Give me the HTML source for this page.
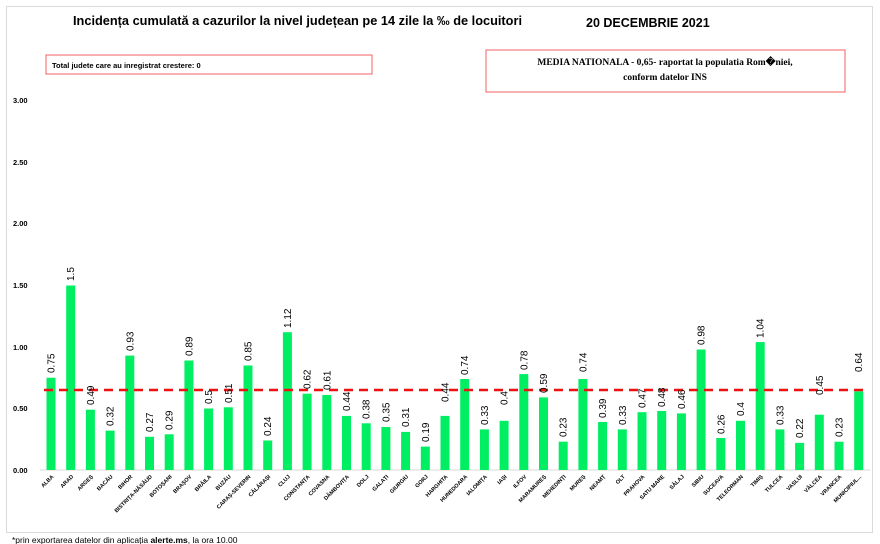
<!DOCTYPE html>
<html><head><meta charset="utf-8"><style>
html,body{margin:0;padding:0;background:#fff;width:880px;height:544px;overflow:hidden}
svg{display:block;font-family:"Liberation Sans",sans-serif}
.v{font-size:10px;fill:#000}
.c{font-size:5.5px;font-weight:bold;fill:#000}
.y{font-size:7.5px;font-weight:bold;fill:#000}
</style></head><body>
<svg width="880" height="544" viewBox="0 0 880 544">
<rect x="6.5" y="6.5" width="866" height="526" fill="#fff" stroke="#d9d9d9"/>
<text x="73" y="25" font-size="12.5" font-weight="bold" textLength="449" lengthAdjust="spacingAndGlyphs">Incidența cumulată a cazurilor la nivel județean pe 14 zile la ‰ de locuitori</text>
<text x="586" y="27" font-size="12.5" font-weight="bold">20 DECEMBRIE 2021</text>
<rect x="46" y="55" width="326" height="19" fill="#fff" stroke="#f06060"/>
<text x="52" y="68" font-size="7.5" font-weight="bold">Total judete care au inregistrat crestere: 0</text>
<rect x="486" y="50" width="359" height="42" fill="#fff" stroke="#f06060"/>
<text x="665" y="65" font-size="9.5" font-weight="bold" text-anchor="middle" font-family="Liberation Serif,serif">MEDIA NATIONALA - 0,65-  raportat la populatia Rom�niei,</text>
<text x="665" y="80" font-size="9.5" font-weight="bold" text-anchor="middle" font-family="Liberation Serif,serif">conform datelor INS</text>
<g class="y">
<text x="13" y="103">3.00</text><text x="13" y="165">2.50</text><text x="13" y="226">2.00</text>
<text x="13" y="288">1.50</text><text x="13" y="350">1.00</text><text x="13" y="411">0.50</text><text x="13" y="473">0.00</text>
</g>
<line x1="40" y1="470" x2="870" y2="470" stroke="#d9d9d9"/>
<g fill="#00ee62">
<rect x="46.5" y="377.75" width="9" height="92.25"/>
<rect x="66.2" y="285.5" width="9" height="184.5"/>
<rect x="85.9" y="409.7" width="9" height="60.3"/>
<rect x="105.6" y="430.6" width="9" height="39.4"/>
<rect x="125.3" y="355.6" width="9" height="114.4"/>
<rect x="145" y="436.8" width="9" height="33.2"/>
<rect x="164.7" y="434.3" width="9" height="35.7"/>
<rect x="184.4" y="360.5" width="9" height="109.5"/>
<rect x="204.1" y="408.5" width="9" height="61.5"/>
<rect x="223.8" y="407.3" width="9" height="62.7"/>
<rect x="243.5" y="365.5" width="9" height="104.5"/>
<rect x="263.2" y="440.5" width="9" height="29.5"/>
<rect x="282.9" y="332.2" width="9" height="137.8"/>
<rect x="302.6" y="393.7" width="9" height="76.3"/>
<rect x="322.3" y="395" width="9" height="75"/>
<rect x="342" y="415.9" width="9" height="54.1"/>
<rect x="361.7" y="423.3" width="9" height="46.7"/>
<rect x="381.4" y="427" width="9" height="43"/>
<rect x="401.1" y="431.9" width="9" height="38.1"/>
<rect x="420.8" y="446.6" width="9" height="23.4"/>
<rect x="440.5" y="415.9" width="9" height="54.1"/>
<rect x="460.2" y="379" width="9" height="91"/>
<rect x="479.9" y="429.4" width="9" height="40.6"/>
<rect x="499.6" y="420.8" width="9" height="49.2"/>
<rect x="519.3" y="374.1" width="9" height="95.9"/>
<rect x="539" y="397.4" width="9" height="72.6"/>
<rect x="558.7" y="441.7" width="9" height="28.3"/>
<rect x="578.4" y="379" width="9" height="91"/>
<rect x="598.1" y="422" width="9" height="48"/>
<rect x="617.8" y="429.4" width="9" height="40.6"/>
<rect x="637.5" y="412.2" width="9" height="57.8"/>
<rect x="657.2" y="411" width="9" height="59"/>
<rect x="676.9" y="413.4" width="9" height="56.6"/>
<rect x="696.6" y="349.5" width="9" height="120.5"/>
<rect x="716.3" y="438" width="9" height="32"/>
<rect x="736" y="420.8" width="9" height="49.2"/>
<rect x="755.7" y="342.1" width="9" height="127.9"/>
<rect x="775.4" y="429.4" width="9" height="40.6"/>
<rect x="795.1" y="442.9" width="9" height="27.1"/>
<rect x="814.8" y="414.7" width="9" height="55.3"/>
<rect x="834.5" y="441.7" width="9" height="28.3"/>
<rect x="854.2" y="391.3" width="9" height="78.7"/>
</g>
<line x1="44" y1="390" x2="868" y2="390" stroke="#ee1111" stroke-width="2.5" stroke-dasharray="9,6"/>
<g class="v">
<text transform="translate(54.5,373) rotate(-90)">0.75</text>
<text transform="translate(74.2,281) rotate(-90)">1.5</text>
<text transform="translate(93.9,405) rotate(-90)">0.49</text>
<text transform="translate(113.6,426) rotate(-90)">0.32</text>
<text transform="translate(133.3,351) rotate(-90)">0.93</text>
<text transform="translate(153,432) rotate(-90)">0.27</text>
<text transform="translate(172.7,430) rotate(-90)">0.29</text>
<text transform="translate(192.4,356) rotate(-90)">0.89</text>
<text transform="translate(212.1,404) rotate(-90)">0.5</text>
<text transform="translate(231.8,403) rotate(-90)">0.51</text>
<text transform="translate(251.5,361) rotate(-90)">0.85</text>
<text transform="translate(271.2,436) rotate(-90)">0.24</text>
<text transform="translate(290.9,328) rotate(-90)">1.12</text>
<text transform="translate(310.6,389) rotate(-90)">0.62</text>
<text transform="translate(330.3,390) rotate(-90)">0.61</text>
<text transform="translate(350,411) rotate(-90)">0.44</text>
<text transform="translate(369.7,419) rotate(-90)">0.38</text>
<text transform="translate(389.4,422) rotate(-90)">0.35</text>
<text transform="translate(409.1,427) rotate(-90)">0.31</text>
<text transform="translate(428.8,442) rotate(-90)">0.19</text>
<text transform="translate(448.5,402) rotate(-90)">0.44</text>
<text transform="translate(468.2,375) rotate(-90)">0.74</text>
<text transform="translate(487.9,425) rotate(-90)">0.33</text>
<text transform="translate(507.6,405) rotate(-90)">0.4</text>
<text transform="translate(527.3,370) rotate(-90)">0.78</text>
<text transform="translate(547,393) rotate(-90)">0.59</text>
<text transform="translate(566.7,437) rotate(-90)">0.23</text>
<text transform="translate(586.4,372) rotate(-90)">0.74</text>
<text transform="translate(606.1,418) rotate(-90)">0.39</text>
<text transform="translate(625.8,425) rotate(-90)">0.33</text>
<text transform="translate(645.5,408) rotate(-90)">0.47</text>
<text transform="translate(665.2,407) rotate(-90)">0.48</text>
<text transform="translate(684.9,409) rotate(-90)">0.46</text>
<text transform="translate(704.6,345) rotate(-90)">0.98</text>
<text transform="translate(724.3,434) rotate(-90)">0.26</text>
<text transform="translate(744,416) rotate(-90)">0.4</text>
<text transform="translate(763.7,338) rotate(-90)">1.04</text>
<text transform="translate(783.4,425) rotate(-90)">0.33</text>
<text transform="translate(803.1,438) rotate(-90)">0.22</text>
<text transform="translate(822.8,395) rotate(-90)">0.45</text>
<text transform="translate(842.5,437) rotate(-90)">0.23</text>
<text transform="translate(862.2,372) rotate(-90)">0.64</text>
</g>
<g class="c" text-anchor="end">
<text transform="translate(54,477) rotate(-45)">ALBA</text>
<text transform="translate(73.7,477) rotate(-45)">ARAD</text>
<text transform="translate(93.4,477) rotate(-45)">ARGEȘ</text>
<text transform="translate(113.1,477) rotate(-45)">BACĂU</text>
<text transform="translate(132.8,477) rotate(-45)">BIHOR</text>
<text transform="translate(152.5,477) rotate(-45)">BISTRIȚA-NĂSĂUD</text>
<text transform="translate(172.2,477) rotate(-45)">BOTOȘANI</text>
<text transform="translate(191.9,477) rotate(-45)">BRAȘOV</text>
<text transform="translate(211.6,477) rotate(-45)">BRĂILA</text>
<text transform="translate(231.3,477) rotate(-45)">BUZĂU</text>
<text transform="translate(251,477) rotate(-45)">CARAȘ-SEVERIN</text>
<text transform="translate(270.7,477) rotate(-45)">CĂLĂRAȘI</text>
<text transform="translate(290.4,477) rotate(-45)">CLUJ</text>
<text transform="translate(310.1,477) rotate(-45)">CONSTANȚA</text>
<text transform="translate(329.8,477) rotate(-45)">COVASNA</text>
<text transform="translate(349.5,477) rotate(-45)">DÂMBOVIȚA</text>
<text transform="translate(369.2,477) rotate(-45)">DOLJ</text>
<text transform="translate(388.9,477) rotate(-45)">GALAȚI</text>
<text transform="translate(408.6,477) rotate(-45)">GIURGIU</text>
<text transform="translate(428.3,477) rotate(-45)">GORJ</text>
<text transform="translate(448,477) rotate(-45)">HARGHITA</text>
<text transform="translate(467.7,477) rotate(-45)">HUNEDOARA</text>
<text transform="translate(487.4,477) rotate(-45)">IALOMIȚA</text>
<text transform="translate(507.1,477) rotate(-45)">IAȘI</text>
<text transform="translate(526.8,477) rotate(-45)">ILFOV</text>
<text transform="translate(546.5,477) rotate(-45)">MARAMUREȘ</text>
<text transform="translate(566.2,477) rotate(-45)">MEHEDINȚI</text>
<text transform="translate(585.9,477) rotate(-45)">MUREȘ</text>
<text transform="translate(605.6,477) rotate(-45)">NEAMȚ</text>
<text transform="translate(625.3,477) rotate(-45)">OLT</text>
<text transform="translate(645,477) rotate(-45)">PRAHOVA</text>
<text transform="translate(664.7,477) rotate(-45)">SATU MARE</text>
<text transform="translate(684.4,477) rotate(-45)">SĂLAJ</text>
<text transform="translate(704.1,477) rotate(-45)">SIBIU</text>
<text transform="translate(723.8,477) rotate(-45)">SUCEAVA</text>
<text transform="translate(743.5,477) rotate(-45)">TELEORMAN</text>
<text transform="translate(763.2,477) rotate(-45)">TIMIȘ</text>
<text transform="translate(782.9,477) rotate(-45)">TULCEA</text>
<text transform="translate(802.6,477) rotate(-45)">VASLUI</text>
<text transform="translate(822.3,477) rotate(-45)">VÂLCEA</text>
<text transform="translate(842,477) rotate(-45)">VRANCEA</text>
<text transform="translate(861.7,477) rotate(-45)">MUNICIPIUL...</text>
</g>
<text x="12" y="543" font-size="8.5">*prin exportarea datelor din aplicația <tspan font-weight="bold">alerte.ms</tspan>, la ora 10.00</text>
</svg>
</body></html>
